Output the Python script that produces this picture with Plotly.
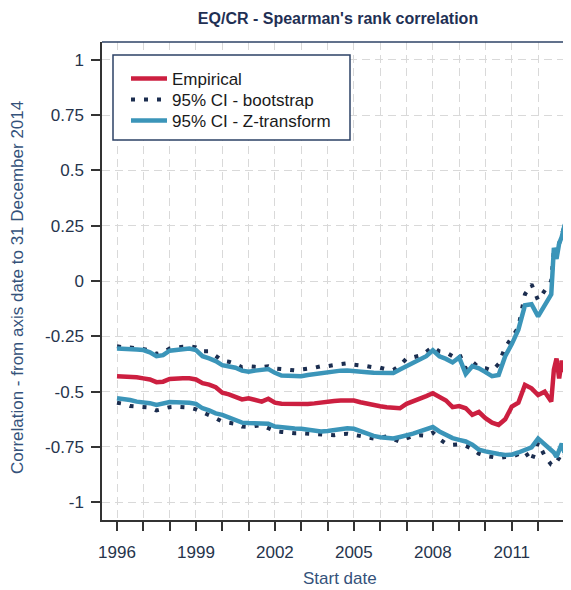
import plotly.graph_objects as go

# Start dates (decimal years)
start_year = [
    1996.0, 1996.25, 1996.5, 1996.75,
    1997.0, 1997.25, 1997.5, 1997.75,
    1998.0, 1998.25, 1998.5, 1998.75,
    1999.0, 1999.25, 1999.5, 1999.75,
    2000.0, 2000.25, 2000.5, 2000.75,
    2001.0, 2001.25, 2001.5, 2001.75,
    2002.0, 2002.25, 2002.5, 2002.75,
    2003.0, 2003.25, 2003.5, 2003.75,
    2004.0, 2004.25, 2004.5, 2004.75,
    2005.0, 2005.25, 2005.5, 2005.75,
    2006.0, 2006.25, 2006.5, 2006.75,
    2007.0, 2007.25, 2007.5, 2007.75,
    2008.0, 2008.25, 2008.5, 2008.75,
    2009.0, 2009.25, 2009.5, 2009.75,
    2010.0, 2010.25, 2010.5, 2010.75,
    2011.0, 2011.25, 2011.5, 2011.75,
    2012.0, 2012.25, 2012.5,
    2012.6, 2012.7, 2012.8, 2012.9, 2013.0, 2013.1,
]

empirical = [
    -0.430, -0.430, -0.432, -0.435,
    -0.440, -0.445, -0.457, -0.455,
    -0.443, -0.440, -0.440, -0.440,
    -0.445, -0.462, -0.468, -0.480,
    -0.505, -0.512, -0.522, -0.535,
    -0.530, -0.540, -0.545, -0.532,
    -0.550, -0.555, -0.556, -0.556,
    -0.555, -0.556, -0.553, -0.548,
    -0.545, -0.542, -0.540, -0.538,
    -0.540, -0.548, -0.555, -0.560,
    -0.566, -0.570, -0.574, -0.575,
    -0.555, -0.545, -0.535, -0.520,
    -0.507, -0.525, -0.540, -0.570,
    -0.565, -0.575, -0.605, -0.592,
    -0.620, -0.640, -0.650, -0.625,
    -0.568, -0.550, -0.470, -0.485,
    -0.515, -0.500, -0.545,
    -0.400, -0.350, -0.440, -0.360, -0.410, -0.345,
]

z_upper = [
    -0.305, -0.305, -0.308, -0.310,
    -0.312, -0.322, -0.340, -0.335,
    -0.315, -0.310, -0.307, -0.305,
    -0.312, -0.340, -0.350, -0.362,
    -0.380, -0.385, -0.392, -0.405,
    -0.410, -0.405, -0.403, -0.398,
    -0.415, -0.427, -0.428, -0.430,
    -0.430, -0.425, -0.420, -0.416,
    -0.412, -0.408, -0.405, -0.404,
    -0.405, -0.408, -0.412, -0.415,
    -0.416, -0.417, -0.416, -0.400,
    -0.385, -0.368, -0.355, -0.340,
    -0.313, -0.340, -0.352, -0.368,
    -0.345, -0.420, -0.385, -0.395,
    -0.412, -0.430, -0.425, -0.340,
    -0.285, -0.220, -0.110, -0.105,
    -0.160, -0.110, -0.060,
    0.150, 0.100, 0.170, 0.200, 0.250, 0.275,
]

z_lower = [
    -0.530, -0.532, -0.538, -0.545,
    -0.547, -0.552, -0.560, -0.555,
    -0.547, -0.548, -0.548, -0.550,
    -0.555, -0.575, -0.585, -0.598,
    -0.605, -0.615, -0.625, -0.640,
    -0.642, -0.642, -0.640, -0.645,
    -0.658, -0.662, -0.665, -0.667,
    -0.668, -0.672, -0.675, -0.680,
    -0.678, -0.672, -0.668, -0.665,
    -0.668, -0.680, -0.690, -0.700,
    -0.706, -0.710, -0.712, -0.705,
    -0.700, -0.690, -0.680, -0.672,
    -0.660, -0.680, -0.697, -0.710,
    -0.718, -0.725, -0.740, -0.762,
    -0.770, -0.778, -0.782, -0.786,
    -0.785, -0.775, -0.762, -0.752,
    -0.712, -0.740, -0.765,
    -0.775, -0.795, -0.765, -0.735, -0.775, -0.760,
]

boot_upper = [
    -0.295, -0.300, -0.300, -0.303,
    -0.305, -0.312, -0.330, -0.322,
    -0.305, -0.300, -0.297, -0.295,
    -0.300, -0.318, -0.318, -0.338,
    -0.360, -0.365, -0.375, -0.390,
    -0.385, -0.388, -0.390, -0.385,
    -0.395, -0.398, -0.402, -0.404,
    -0.400, -0.398, -0.392, -0.385,
    -0.385, -0.380, -0.375, -0.372,
    -0.378, -0.380, -0.385, -0.390,
    -0.392, -0.400, -0.402, -0.382,
    -0.350, -0.345, -0.337, -0.320,
    -0.298, -0.318, -0.323, -0.340,
    -0.327, -0.395, -0.365, -0.390,
    -0.394, -0.405, -0.375, -0.300,
    -0.255, -0.210, -0.060, -0.015,
    -0.087, -0.040, 0.000,
    0.140, 0.110, 0.170, 0.210, 0.260, 0.285,
]

boot_lower = [
    -0.550, -0.555, -0.565, -0.568,
    -0.570, -0.572, -0.585, -0.578,
    -0.570, -0.568, -0.570, -0.572,
    -0.580, -0.592, -0.605, -0.620,
    -0.636, -0.640, -0.645, -0.658,
    -0.660, -0.655, -0.652, -0.665,
    -0.678, -0.682, -0.686, -0.688,
    -0.688, -0.690, -0.692, -0.692,
    -0.695, -0.697, -0.692, -0.690,
    -0.695, -0.702, -0.708, -0.712,
    -0.708, -0.702, -0.715, -0.726,
    -0.712, -0.700, -0.697, -0.700,
    -0.685, -0.714, -0.735, -0.740,
    -0.738, -0.745, -0.758, -0.780,
    -0.790, -0.795, -0.800, -0.795,
    -0.795, -0.782, -0.770, -0.815,
    -0.730, -0.790, -0.830,
    -0.835, -0.818, -0.800, -0.775, -0.790, -0.770,
]

x_tick_vals = [1996, 1999, 2002, 2005, 2008, 2011]
x_tick_text = ["1996", "1999", "2002", "2005", "2008", "2011"]
y_tick_vals = [1, 0.75, 0.5, 0.25, 0, -0.25, -0.5, -0.75, -1]
y_tick_text = ["1", "0.75", "0.5", "0.25", "0", "-0.25", "-0.5", "-0.75", "-1"]

RED = "#CC1F40"
BLUE = "#3B95B9"
NAVY = "#1B2D4F"
FRAME = "#2C4266"
GRID = "#D9D9D9"
FONT = "Liberation Sans, Arial, sans-serif"

fig = go.Figure()

fig.add_trace(go.Scatter(x=start_year, y=boot_upper, mode="lines", name="95% CI - bootstrap",
                         line=dict(color=NAVY, width=4, dash="4px,9px"),
                         legendgroup="boot", legend="legend2"))
fig.add_trace(go.Scatter(x=start_year, y=boot_lower, mode="lines", name="95% CI - bootstrap",
                         line=dict(color=NAVY, width=4, dash="4px,9px"),
                         legendgroup="boot", showlegend=False, legend="legend2"))
fig.add_trace(go.Scatter(x=start_year, y=z_upper, mode="lines", name="95% CI - Z-transform",
                         line=dict(color=BLUE, width=4.5),
                         legendgroup="z", legend="legend3"))
fig.add_trace(go.Scatter(x=start_year, y=z_lower, mode="lines", name="95% CI - Z-transform",
                         line=dict(color=BLUE, width=4.5),
                         legendgroup="z", showlegend=False, legend="legend3"))
fig.add_trace(go.Scatter(x=start_year, y=empirical, mode="lines", name="Empirical",
                         line=dict(color=RED, width=4.5), legend="legend"))

# The page places the figure at an 8px offset; all layout pixel values below
# are given in page coordinates and shifted by OFF.
OFF = 8
W, H = 571 - OFF, 590 - OFF
L, R, T, B = 102 - OFF, 0, 42 - OFF, 70
pw = W - L - R
ph = H - T - B

def px_x(p):
    return (p - OFF - L) / pw

def px_y(p):
    return 1 - (p - OFF - T) / ph

def legend_at(top):
    return dict(x=px_x(126), y=px_y(top), xanchor="left", yanchor="top",
                bgcolor="rgba(0,0,0,0)", borderwidth=0,
                font=dict(family=FONT, size=17, color="#1A1A1A"),
                itemwidth=36, tracegroupgap=0)

fig.update_layout(
    width=W, height=H,
    margin=dict(l=L, r=R, t=T, b=B),
    paper_bgcolor="white",
    plot_bgcolor="white",
    font=dict(family=FONT, size=16, color="#222222"),
    title=dict(text="<b>EQ/CR - Spearman's rank correlation</b>",
               font=dict(family=FONT, size=16, color="#1F3054"),
               x=(338 - OFF) / W, xref="container", xanchor="center",
               y=1 - (18 - OFF) / H, yref="container", yanchor="middle"),
    showlegend=True,
    legend=legend_at(61),
    legend2=legend_at(82),
    legend3=legend_at(103),
    xaxis=dict(range=[1995.43, 2013.25], tickvals=x_tick_vals, ticktext=x_tick_text,
               ticks="outside", ticklen=9, tickwidth=1.5, tickcolor="#333333",
               showline=True, linecolor="#333333", linewidth=1.5, mirror=False,
               showgrid=True, gridcolor=GRID, gridwidth=1, griddash="8px,5px",
               zeroline=False, ticklabelstandoff=7,
               tickfont=dict(family=FONT, size=17, color="#26344C"),
               minor=dict(tick0=1996, dtick=1, ticks="outside", ticklen=9, tickwidth=1.5,
                          tickcolor="#333333", showgrid=True, gridcolor=GRID,
                          gridwidth=1, griddash="8px,5px")),
    yaxis=dict(range=[-1.08, 1.08], tickvals=y_tick_vals, ticktext=y_tick_text,
               ticks="outside", ticklen=9, tickwidth=1.5, tickcolor="#333333",
               showline=True, linecolor="#333333", linewidth=1.5, mirror=False,
               showgrid=True, gridcolor=GRID, gridwidth=1, griddash="8px,5px",
               zeroline=False,
               tickfont=dict(family=FONT, size=17, color="#26344C"),
               ticklabelstandoff=4),
)

# top frame line
fig.add_shape(type="line", xref="paper", yref="paper", x0=0, x1=1, y0=1, y1=1,
              line=dict(color=FRAME, width=1.5))
# legend box
fig.add_shape(type="rect", xref="paper", yref="paper",
              x0=px_x(113), x1=px_x(350), y0=px_y(140), y1=px_y(55),
              line=dict(color=FRAME, width=1.5), fillcolor="white", layer="above")

# axis titles
fig.add_annotation(text="Start date", xref="paper", yref="paper",
                   x=px_x(340), y=px_y(578), xanchor="center", yanchor="middle",
                   showarrow=False, font=dict(family=FONT, size=17, color="#34527A"))
fig.add_annotation(text="Correlation - from axis date to 31 December 2014", xref="paper", yref="paper",
                   x=px_x(17), y=px_y(288), xanchor="center", yanchor="middle", textangle=-90,
                   showarrow=False, font=dict(family=FONT, size=17, color="#34527A"))

fig.write_html("out.html")
